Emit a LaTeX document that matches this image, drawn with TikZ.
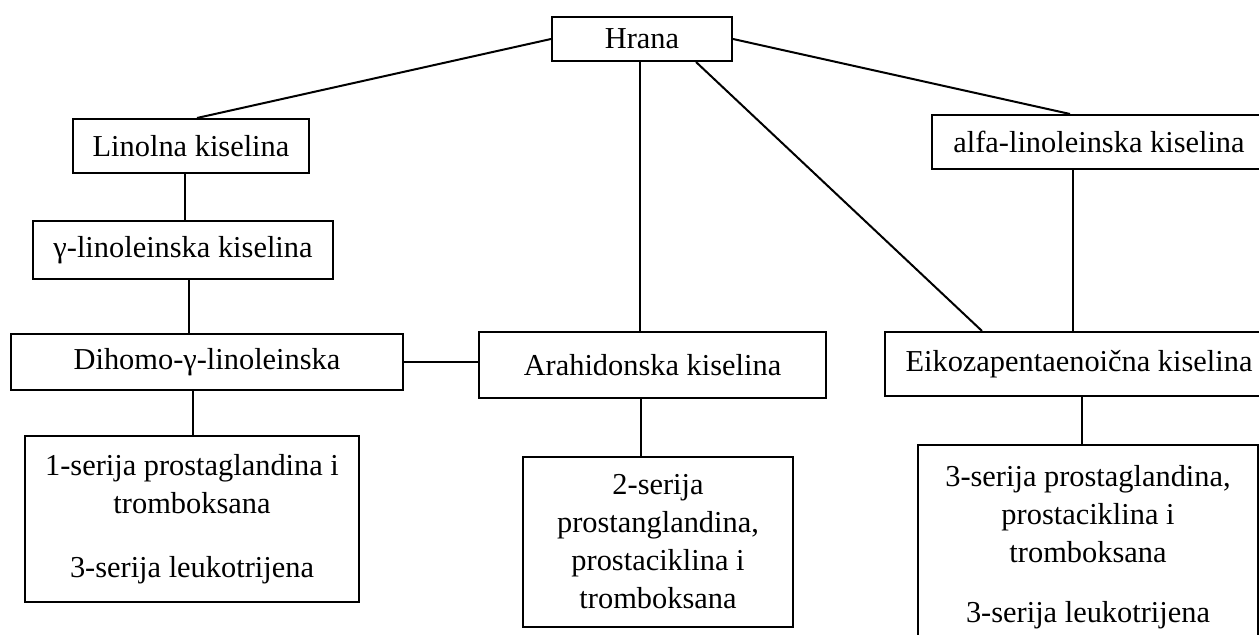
\documentclass[tikz,border=0pt]{standalone}
\usepackage{fontspec}
\setmainfont{Liberation Serif}
\usetikzlibrary{calc}
\newcommand{\fsz}{\fontsize{15.2pt}{19pt}\selectfont}
\tikzset{
  bx/.style 2 args={draw, line width=1pt, minimum width=#1*0.5pt, minimum height=#2*0.5pt,
    inner sep=0pt, align=center, font=\fsz},
  conn/.style={line width=1pt}
}
\begin{document}
\begin{tikzpicture}[x=0.5pt,y=-0.5pt]
\clip (0,0) rectangle (1259,635);
\fill[white] (0,0) rectangle (1259,635);
\node[bx={180}{44}] (hrana) at (642,39) {Hrana};
\node[bx={236}{54}] (lin) at (191,146) {Linolna kiselina};
\node[bx={300}{58}] (gam) at (183,250) {γ-linoleinska kiselina};
\node[bx={334}{54}] (alfa) at (1099,142) {alfa-linoleinska kiselina};
\node[bx={392}{56}] (dih) at (207,362) {Dihomo-γ-linoleinska};
\node[bx={347}{66}] (arah) at (652.5,365) {Arahidonska kiselina};
\node[bx={388}{64}] (eiko) at (1079,364) {Eikozapentaenoična kiselina};
\node[bx={334}{166}] (ser1) at (192,519) {1-serija prostaglandina i\\tromboksana\\[13pt]3-serija leukotrijena};
\node[bx={270}{170}] (ser2) at (658,542) {2-serija\\prostanglandina,\\prostaciklina i\\tromboksana};
\node[bx={340}{205}] (ser3) at (1088,547.5) {3-serija prostaglandina,\\prostaciklina i\\tromboksana\\[11pt]3-serija leukotrijena};

\draw[conn] (hrana.west) -- ($(lin.north)+(6,0)$);
\draw[conn] (hrana.east) -- ($(alfa.north)+(-29,0)$);
\draw[conn] ($(hrana.south)+(-2,0)$) coordinate (hs) -- (hs |- arah.north);
\draw[conn] ($(hrana.south)+(54,0)$) -- ($(eiko.north west)+(98,0)$);
\draw[conn] ($(lin.south)+(-6,0)$) coordinate (ls) -- (ls |- gam.north);
\draw[conn] ($(gam.south)+(6,0)$) coordinate (gs) -- (gs |- dih.north);
\draw[conn] (dih.east) -- (dih.east -| arah.west);
\draw[conn] ($(dih.south)+(-14,0)$) coordinate (ds) -- (ds |- ser1.north);
\draw[conn] ($(arah.south)+(-11.5,0)$) coordinate (as) -- (as |- ser2.north);
\draw[conn] ($(alfa.south)+(-26,0)$) coordinate (fs) -- (fs |- eiko.north);
\draw[conn] ($(eiko.south)+(3,0)$) coordinate (es) -- (es |- ser3.north);
\end{tikzpicture}
\end{document}
